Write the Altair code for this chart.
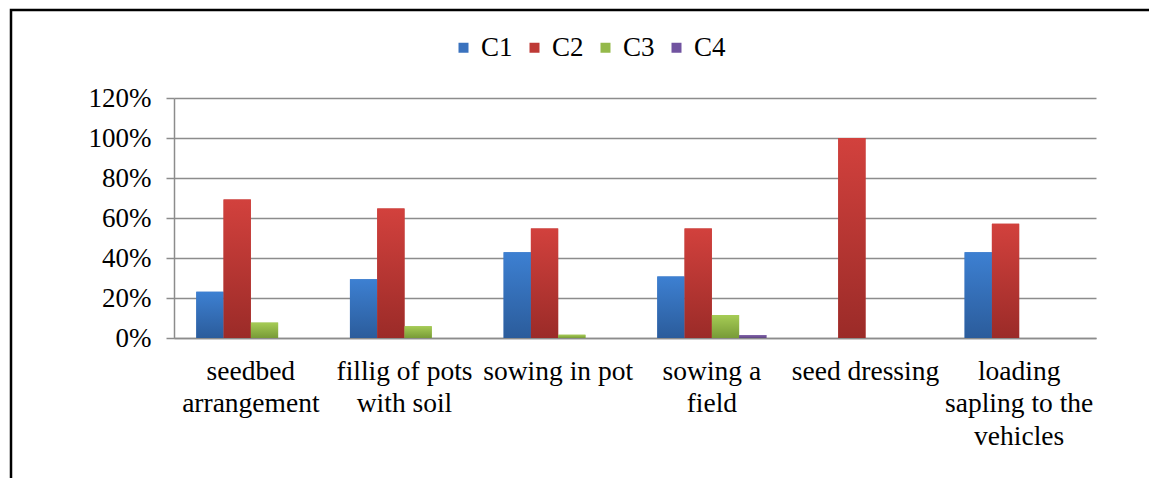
import json
import altair as alt
import pandas as pd

# ---- data ----
categories = [
    "seedbed arrangement",
    "fillig of pots with soil",
    "sowing in pot",
    "sowing a field",
    "seed dressing",
    "loading sapling to the vehicles",
]
tick_label_lines = [
    ["seedbed", "arrangement"],
    ["fillig of pots", "with soil"],
    ["sowing in pot"],
    ["sowing a", "field"],
    ["seed dressing"],
    ["loading", "sapling to the", "vehicles"],
]
series = ["C1", "C2", "C3", "C4"]
c1 = [0.231, 0.294, 0.429, 0.308, 0.0, 0.429]
c2 = [0.692, 0.647, 0.548, 0.548, 1.0, 0.571]
c3 = [0.077, 0.059, 0.016, 0.115, 0.0, 0.0]
c4 = [0.0, 0.0, 0.0, 0.015, 0.0, 0.0]
y_ticks = [0, 0.2, 0.4, 0.6, 0.8, 1.0, 1.2]

legend_colors = ["#3A72BE", "#BE3A36", "#94B94A", "#7153A0"]
grad_top = ["#3D80D2", "#D2413D", "#A6CC55", "#8466AC"]
grad_bottom = ["#2B5C9B", "#9B2B28", "#789B37", "#5E4482"]

rows = []
for s, vals in zip(series, [c1, c2, c3, c4]):
    for c, v in zip(categories, vals):
        rows.append({"category": c, "series": s, "value": v})
df = pd.DataFrame(rows)

FONT = "'Liberation Serif', 'Times New Roman', serif"
GREY = "#8c8c8c"

label_expr = json.dumps(dict(zip(categories, tick_label_lines))) + "[datum.value]"

x_enc = alt.X(
    "category:N",
    sort=categories,
    scale=alt.Scale(paddingInner=0.29, paddingOuter=0.145),
    axis=alt.Axis(
        title=None, labelAngle=0, labelExpr=label_expr, labelFont=FONT,
        labelFontSize=27.5, labelLineHeight=32.5, labelColor="black",
        labelPadding=19, ticks=False, domainColor=GREY, domainWidth=1.5,
        grid=False, labelOverlap=False, labelLimit=400,
    ),
)
xoff_enc = alt.XOffset("series:N", sort=series,
                       scale=alt.Scale(domain=series, paddingInner=0, paddingOuter=0))
y_enc = alt.Y(
    "value:Q",
    scale=alt.Scale(domain=[0, 1.2], nice=False),
    axis=alt.Axis(
        title=None, values=y_ticks, format=".0%", labelFont=FONT,
        labelFontSize=27, labelColor="black", labelPadding=15,
        tickSize=8, tickColor=GREY, tickWidth=1.5, domainColor=GREY,
        domainWidth=1.5, gridColor=GREY, gridWidth=1.3,
    ),
)

base = alt.Chart(df).mark_bar().encode(
    x=x_enc,
    xOffset=xoff_enc,
    y=y_enc,
    color=alt.Color(
        "series:N", sort=series,
        scale=alt.Scale(domain=series, range=legend_colors),
        legend=alt.Legend(
            title=None, orient="none", direction="horizontal",
            legendX=276, legendY=-64, symbolType="square", symbolSize=100,
            symbolStrokeWidth=0, labelFont=FONT, labelFontSize=27,
            labelColor="black", labelOffset=4, columnPadding=8, padding=0,
        ),
    ),
)

layers = [base]
for s, top, bot in zip(series, grad_top, grad_bottom):
    grad = alt.Gradient(
        gradient="linear",
        stops=[alt.GradientStop(color=top, offset=0),
               alt.GradientStop(color=bot, offset=1)],
        x1=0, x2=0, y1=0, y2=1,
    )
    layers.append(
        alt.Chart(df)
        .transform_filter(alt.datum.series == s)
        .mark_bar(fill=grad)
        .encode(x=x_enc, xOffset=xoff_enc, y=y_enc)
    )

border = alt.Chart(alt.Data(values=[{}])).mark_rect(
    fillOpacity=0, stroke="black", strokeWidth=2.5
).encode(
    x=alt.value(-163), x2=alt.value(1100), y=alt.value(-88), y2=alt.value(500)
)
layers.append(border)

chart = (
    alt.layer(*layers)
    .properties(
        width=922, height=240,
        padding={"left": 166, "top": 90, "right": 53, "bottom": 140},
        autosize=alt.AutoSizeParams(type="none"),
        background="white",
    )
    .configure_view(stroke=None)
)

chart.save("out.html", embed_options={"renderer": "svg", "actions": False})
